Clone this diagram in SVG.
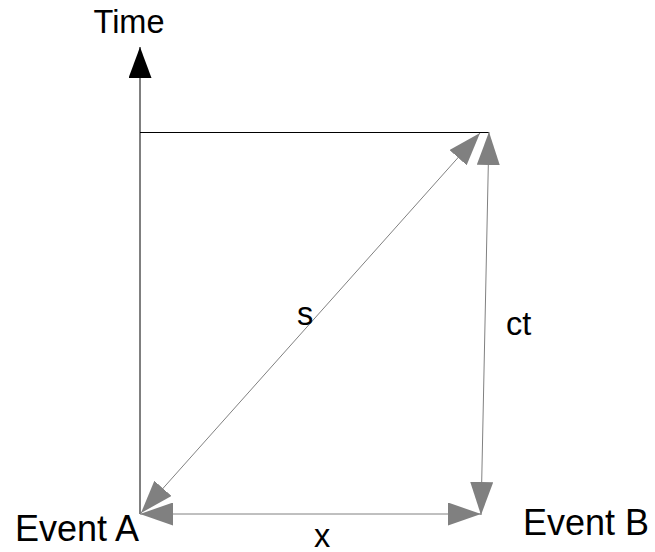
<svg xmlns="http://www.w3.org/2000/svg" width="655" height="552" viewBox="0 0 655 552">
  <style>
    .lbl { font-family: "Liberation Sans", Arial, sans-serif; fill: #000; }
    .big { font-size: 36px; }
    .mid { font-size: 32.5px; }
    .axis { stroke: #000; stroke-width: 1; fill: none; }
    .conn { stroke: #808080; stroke-width: 1; fill: none; marker-start: url(#ga); marker-end: url(#ga); }
  </style>
  <defs>
    <marker id="ga" viewBox="0 0 33 23" refX="33" refY="11.5" markerWidth="33" markerHeight="23" markerUnits="userSpaceOnUse" orient="auto-start-reverse">
      <path d="M0,0 L33,11.5 L0,23 Z" fill="#808080"/>
    </marker>
    <marker id="ba" viewBox="0 0 31 23" refX="31" refY="11.5" markerWidth="31" markerHeight="23" markerUnits="userSpaceOnUse" orient="auto">
      <path d="M0,0 L31,11.5 L0,23 Z" fill="#000"/>
    </marker>
  </defs>
  <rect width="655" height="552" fill="#fff"/>
  <g id="axes">
    <line class="axis" x1="140" y1="514" x2="140" y2="47" marker-end="url(#ba)"/>
    <line class="axis" x1="140" y1="132.5" x2="489" y2="132.5"/>
  </g>
  <g id="connectors">
    <line class="conn" x1="141" y1="513" x2="480" y2="133"/>
    <line class="conn" x1="489" y1="132" x2="481" y2="515"/>
    <line class="conn" x1="140" y1="514" x2="481" y2="514"/>
    <text class="lbl mid" x="297" y="325">s</text>
    <text class="lbl mid" x="506" y="335">ct</text>
    <text class="lbl mid" x="314" y="547">x</text>
  </g>
  <g id="node-time">
    <text class="lbl mid" x="93.5" y="33">Time</text>
  </g>
  <g id="node-event-a">
    <text class="lbl big" x="15" y="541">Event A</text>
  </g>
  <g id="node-event-b">
    <text class="lbl big" x="523" y="535">Event B</text>
  </g>
</svg>
